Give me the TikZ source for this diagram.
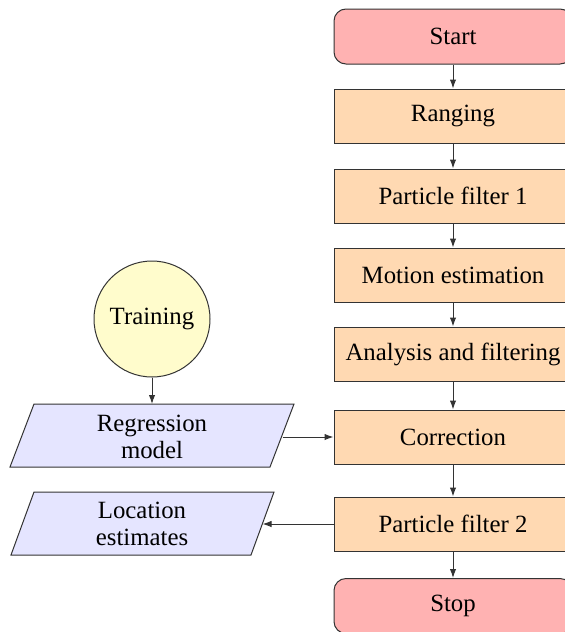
\documentclass[tikz,border=0pt]{standalone}
\usepackage{fontspec}
\setmainfont{Liberation Serif}
\usetikzlibrary{arrows.meta}
\begin{document}
\begin{tikzpicture}[x=0.5pt,y=-0.5pt,
  txt/.style={font=\fontsize{12.4}{13.5}\selectfont, align=center},
  term/.style={txt, draw=black!80, line width=0.5pt, rectangle, rounded corners=6pt, fill=red!30, minimum width=119pt, minimum height=27.5pt},
  proc/.style={txt, draw=black!80, line width=0.5pt, rectangle, fill=orange!30, minimum width=119pt, minimum height=27pt},
  iobox/.style={draw=black!80, line width=0.5pt, fill=blue!10},
  train/.style={txt, draw=black!80, line width=0.5pt, circle, fill=yellow!20, minimum size=58pt, inner sep=0pt},
  link/.style={draw=black!80, line width=0.5pt, -{Latex[length=4.5pt,width=3.2pt]}}]
\useasboundingbox (0,0) rectangle (564,632);

% main column
\node[term] (start) at (453,36.5) {Start};
\node[proc] (rang)  at (453,116) {Ranging};
\node[proc] (pf1)   at (453,196) {Particle filter 1};
\node[proc] (mot)   at (453,275) {Motion estimation};
\node[proc] (ana)   at (453,354) {Analysis and filtering};
\node[proc] (cor)   at (453,437) {Correction};
\node[proc] (pf2)   at (453,524) {Particle filter 2};
\node[term] (stop)  at (453,606) {Stop};

% side branch: training circle and the two data parallelograms
\node[train] (train) at (152,319) {Training};

\draw[iobox] (34,404) -- (294,404) -- (270,467) -- (10,467) -- cycle;
\coordinate (regin) at (152,404);
\coordinate (regout) at (282.5,437);
\node[txt] (reg) at (152,437) {Regression\\model};

\draw[iobox] (34,492) -- (274,492) -- (251,555) -- (11,555) -- cycle;
\coordinate (locin) at (262.5,524);
\node[txt] (loc) at (142,524) {Location\\estimates};

\draw[link] (start) -- (rang);
\draw[link] (rang) -- (pf1);
\draw[link] (pf1) -- (mot);
\draw[link] (mot) -- (ana);
\draw[link] (ana) -- (cor);
\draw[link] (cor) -- (pf2);
\draw[link] (pf2) -- (stop);
\draw[link] (train) -- (regin);
\draw[link] (regout) -- (cor.west);
\draw[link] (pf2.west) -- (locin);
\end{tikzpicture}
\end{document}
